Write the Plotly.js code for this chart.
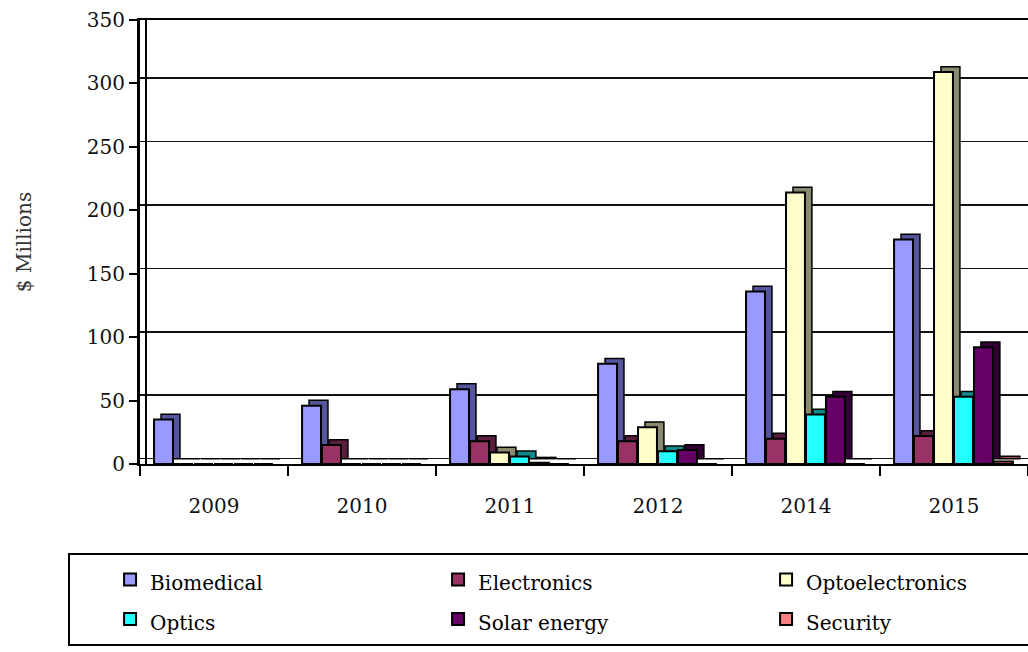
<!DOCTYPE html>
<html>
<head>
<meta charset="utf-8">
<script src="https://cdn.plot.ly/plotly-3.0.1.min.js"></script>
<style>html,body{margin:0;padding:0;background:#fff;}#chart{width:1028px;height:652px;}</style>
</head>
<body>
<div id="chart"></div>
<script>
var years = ['2009', '2010', '2011', '2012', '2014', '2015'];
var biomedical = [35, 46, 59, 79, 136, 177];
var electronics = [0, 15, 18, 18, 20, 22];
var optoelectronics = [0, 0, 9, 29, 214, 309];
var optics = [0, 0, 6, 10, 39, 53];
var solarEnergy = [0, 0, 1, 11, 53, 92];
var security = [0, 0, 0, 0, 0, 2];
var seriesNames = ['Biomedical', 'Electronics', 'Optoelectronics', 'Optics', 'Solar energy', 'Security'];
var yTicks = [0, 50, 100, 150, 200, 250, 300, 350];

var seriesValues = [biomedical, electronics, optoelectronics, optics, solarEnergy, security];
var frontColors = ['#9999FF', '#993366', '#FFFFCC', '#22FFFF', '#660066', '#FF8080'];
var sideColors = ['#55559E', '#5A1E3C', '#8A8A6E', '#0E8A8A', '#330033', '#A05050'];

var pitch = 0.135, barW = 0.128, start = -0.405, dx = 0.047, depth = 4.2;
var FONT = 'DejaVu Serif, Liberation Serif, serif';

var traces = [];
// back / side faces (drawn first, on the shifted "back wall" axis)
seriesValues.forEach(function (vals, i) {
  traces.push({
    type: 'bar', x: years, y: vals, xaxis: 'x', yaxis: 'y',
    offset: start + i * pitch + dx, width: barW,
    marker: {color: sideColors[i], line: {color: '#000', width: 1.5}},
    showlegend: false, hoverinfo: 'skip'
  });
});
// front faces
seriesValues.forEach(function (vals, i) {
  traces.push({
    type: 'bar', x: years, y: vals, xaxis: 'x', yaxis: 'y2',
    name: '<span style="font-size:20px">' + seriesNames[i] + '</span>',
    offset: start + i * pitch, width: barW,
    marker: {color: frontColors[i], line: {color: '#000', width: 2}}
  });
});

var layout = {
  width: 1028, height: 652,
  margin: {l: 140, r: 0, t: 20, b: 188, autoexpand: false},
  paper_bgcolor: '#fff', plot_bgcolor: '#fff',
  barmode: 'overlay',
  showlegend: true,
  font: {family: FONT, color: '#000', size: 20},
  xaxis: {
    type: 'category', range: [-0.5, 5.5],
    showline: true, linecolor: '#000', linewidth: 2, mirror: true,
    ticks: 'outside', tickson: 'boundaries', ticklen: 10, tickwidth: 2, tickcolor: '#000',
    ticklabelstandoff: 23,
    showgrid: false, zeroline: false,
    tickfont: {family: FONT, size: 20, color: '#111'}
  },
  yaxis: {
    range: [-depth, 350 - depth], tickvals: yTicks,
    anchor: 'free', position: 0.0068,
    showgrid: true, gridcolor: '#111', gridwidth: 1.5,
    showticklabels: false, ticks: '', zeroline: false,
    showline: true, linecolor: '#000', linewidth: 2
  },
  yaxis2: {
    overlaying: 'y', side: 'left', anchor: 'x', range: [0, 350], tickvals: yTicks,
    showgrid: false, zeroline: false,
    showline: true, linecolor: '#000', linewidth: 3,
    ticks: 'outside', ticklen: 8, tickwidth: 2, tickcolor: '#000',
    tickfont: {family: FONT, size: 20, color: '#111'},
    title: {text: '$ Millions', font: {family: FONT, size: 20, color: '#333'}, standoff: 50}
  },
  legend: {
    orientation: 'h', x: -0.081, xanchor: 'left', y: -0.2, yanchor: 'top',
    bordercolor: '#000', borderwidth: 2, bgcolor: '#fff',
    entrywidth: 243, entrywidthmode: 'pixels', indentation: 40,
    font: {family: FONT, size: 28, color: '#000'},
    traceorder: 'normal'
  }
};

Plotly.newPlot('chart', traces, layout, {staticPlot: true});
</script>
</body>
</html>
